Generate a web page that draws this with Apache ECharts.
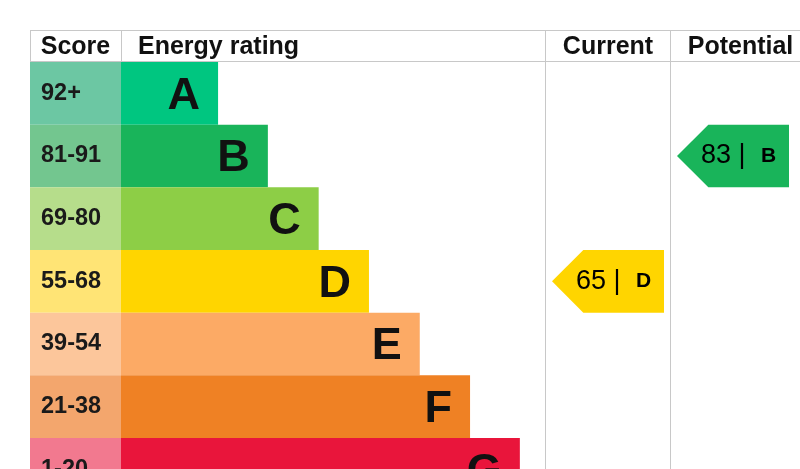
<!DOCTYPE html>
<html>
<head>
<meta charset="utf-8">
<script src="https://cdn.jsdelivr.net/npm/echarts@6/dist/echarts.min.js"></script>
<style>
html,body{margin:0;padding:0;background:#fff;}
#chart{width:800px;height:469px;}
</style>
</head>
<body>
<div id="chart"></div>
<script>
// ---- data ----
var bands = ['A', 'B', 'C', 'D', 'E', 'F', 'G'];
var scoreRanges = ['92+', '81-91', '69-80', '55-68', '39-54', '21-38', '1-20'];
var barLengths = [1.93, 2.92, 3.93, 4.93, 5.94, 6.94, 7.93];
var headers = ['Score', 'Energy rating', 'Current', 'Potential'];
var currentScore = 65, currentBand = 'D';
var potentialScore = 83, potentialBand = 'B';

// ---- styles ----
var barColors = ['#00c680', '#19b45a', '#8dce46', '#ffd500', '#fcaa65', '#ef8124', '#e9153b'];
var scoreColors = ['#6cc7a3', '#73c68f', '#b6dd8b', '#ffe475', '#fcc69b', '#f3a66d', '#f2798f'];
var FONT = '"Liberation Sans", Arial, sans-serif';
var LINE = '#c8c8c8';

var TOP = 62, ROWH = 62.67, H = ROWH * 7;
var BOTTOM = 469 - (TOP + H);

var chart = echarts.init(document.getElementById('chart'), null, {renderer: 'canvas'});

function yAx(i) {
  return {type: 'category', data: bands, inverse: true, show: false, gridIndex: i};
}
function xAx(i, max) {
  return {type: 'value', min: 0, max: max, show: false, gridIndex: i};
}
function grid(left, width) {
  return {left: left, width: width, top: TOP, bottom: BOTTOM,
    containLabel: false, outerBoundsMode: 'none'};
}

function arrowSeries(gridIdx, score, band, color) {
  var row = bands.indexOf(band);
  return {
    type: 'custom',
    xAxisIndex: gridIdx, yAxisIndex: gridIdx,
    data: [[0, row, score]],
    silent: true,
    clip: false,
    renderItem: function (params, api) {
      var cy = api.coord([0, api.value(1)])[1];
      var h = api.size([0, 1])[1];
      var x0 = api.coord([0.056, 0])[0];
      var x1 = api.coord([0.952, 0])[0];
      var top = cy - h / 2, bot = cy + h / 2;
      var sh = x0 + h / 2;
      return {
        type: 'group',
        children: [{
          type: 'polygon',
          shape: {points: [[x0, cy], [sh, top], [x1, top], [x1, bot], [sh, bot]]},
          style: {fill: color}
        }, {
          type: 'text',
          x: (sh + x1) / 2 - 10, y: cy,
          style: {
            text: '{a|' + api.value(2) + ' | }{b|' + band + '}',
            align: 'center', verticalAlign: 'middle',
            rich: {
              a: {fontFamily: FONT, fontSize: 27, color: '#1a1a1a', padding: [0, 8, 0, 0]},
              b: {fontFamily: FONT, fontSize: 21, fontWeight: 'bold', color: '#1a1a1a'}
            }
          }
        }]
      };
    }
  };
}

var graphics = [];
function line(x1, y1, x2, y2) {
  graphics.push({type: 'line', shape: {x1: x1, y1: y1, x2: x2, y2: y2},
    style: {stroke: LINE, lineWidth: 1}, silent: true, z: 10});
}
line(30, 30.5, 800, 30.5);
line(30, 61.5, 800, 61.5);
line(30.5, 30, 30.5, 62);
line(121.5, 30, 121.5, 62);
line(545.5, 30, 545.5, 469);
line(670.5, 30, 670.5, 469);
var hdrStyle = {fontFamily: FONT, fontSize: 25, fontWeight: 'bold', fill: '#111', verticalAlign: 'middle'};
function hdr(text, x, align) {
  graphics.push({type: 'text', x: x, y: 47, silent: true,
    style: Object.assign({text: text, align: align}, hdrStyle)});
}
hdr(headers[0], 75.5, 'center');
hdr(headers[1], 138, 'left');
hdr(headers[2], 608, 'center');
hdr(headers[3], 740.5, 'center');

var option = {
  animation: false,
  backgroundColor: '#fff',
  grid: [grid(30, 91), grid(121, 424), grid(545, 125), grid(670, 125)],
  xAxis: [xAx(0, 1), xAx(1, 8.43), xAx(2, 1), xAx(3, 1)],
  yAxis: [yAx(0), yAx(1), yAx(2), yAx(3)],
  graphic: graphics,
  series: [
    {
      type: 'bar', xAxisIndex: 0, yAxisIndex: 0,
      barWidth: '100%', silent: true,
      data: scoreRanges.map(function (s, i) {
        return {value: 1, itemStyle: {color: scoreColors[i]}};
      }),
      label: {
        show: true, position: 'insideLeft', distance: 11,
        formatter: function (p) { return scoreRanges[p.dataIndex]; },
        fontFamily: FONT, fontSize: 23.5, fontWeight: 'bold', color: '#1a1a1a'
      }
    },
    {
      type: 'bar', xAxisIndex: 1, yAxisIndex: 1,
      barWidth: '100%', silent: true,
      data: barLengths.map(function (v, i) {
        return {value: v, itemStyle: {color: barColors[i]}};
      }),
      label: {
        show: true, position: 'insideRight', distance: 18, offset: [0, 3],
        formatter: function (p) { return bands[p.dataIndex]; },
        fontFamily: FONT, fontSize: 45, fontWeight: 'bold', color: '#111'
      }
    },
    arrowSeries(2, currentScore, currentBand, '#ffd500'),
    arrowSeries(3, potentialScore, potentialBand, '#19b45a')
  ]
};
chart.setOption(option);
</script>
</body>
</html>
